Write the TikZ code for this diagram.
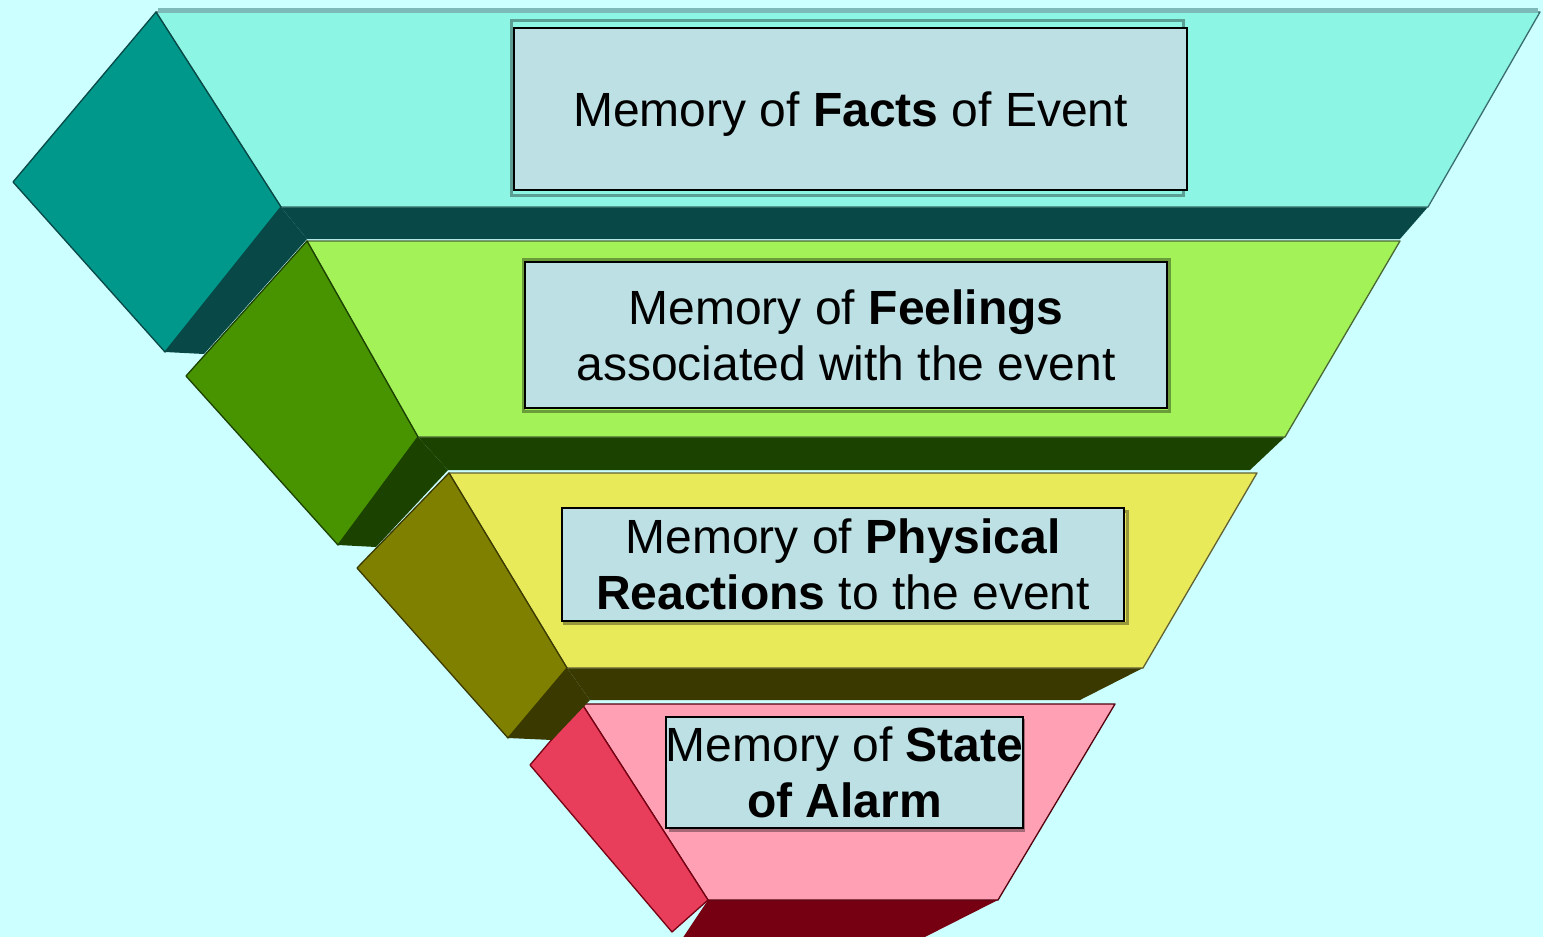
\documentclass[tikz,border=0pt]{standalone}
\usepackage{fontspec}
\setmainfont{Liberation Sans}
\definecolor{bg}{RGB}{204,255,255}
\definecolor{aTop}{RGB}{140,245,228}
\definecolor{aSide}{RGB}{0,152,138}
\definecolor{aDark}{RGB}{8,72,70}
\definecolor{bTop}{RGB}{163,242,88}
\definecolor{bSide}{RGB}{72,148,0}
\definecolor{bDark}{RGB}{28,66,0}
\definecolor{cTop}{RGB}{232,234,90}
\definecolor{cSide}{RGB}{128,128,0}
\definecolor{cDark}{RGB}{58,58,0}
\definecolor{dTop}{RGB}{255,160,180}
\definecolor{dSide}{RGB}{232,62,92}
\definecolor{dDark}{RGB}{118,0,18}
\definecolor{boxfill}{RGB}{188,224,228}
\definecolor{rimline}{RGB}{125,185,185}
\tikzset{
  edgeline/.style={line width=1.3pt, line join=round},
  boxnode/.style={draw=black, line width=1.6pt, fill=boxfill, inner sep=0pt,
    align=center, font=\fontsize{48}{56}\selectfont},
  shadowframe/.style={draw=black, draw opacity=0.35, line width=3pt}
}
\begin{document}
\begin{tikzpicture}[x=1pt,y=-1pt]
\fill[bg] (0,0) rectangle (1543,937);
\useasboundingbox (0,0) rectangle (1543,937);

% ---------- layer 4 (pink) ----------
\fill[dDark] (708,900) -- (998,900) -- (915,942) -- (680,942) -- cycle;
\filldraw[fill=dTop, draw=dDark!70!black, edgeline] (582,704) -- (1115,704) -- (998,900) -- (708,900) -- cycle;
\filldraw[fill=dSide, draw=dDark, edgeline] (582,704) -- (530,765) -- (672,932) -- (708,900) -- cycle;

% ---------- layer 3 (yellow) ----------
\fill[cDark] (567,668) -- (590,700) -- (552,740) -- (508,738) -- cycle;
\fill[cDark] (567,668) -- (1143,668) -- (1080,700) -- (590,700) -- cycle;
\filldraw[fill=cTop, draw=cDark!80, edgeline] (449,473) -- (1257,473) -- (1143,668) -- (567,668) -- cycle;
\filldraw[fill=cSide, draw=cDark, edgeline] (449,473) -- (357,568) -- (508,738) -- (567,668) -- cycle;

% ---------- layer 2 (green) ----------
\fill[bDark] (418,437) -- (448,470) -- (376,547) -- (338,545) -- cycle;
\fill[bDark] (418,437) -- (1285,437) -- (1250,470) -- (448,470) -- cycle;
\filldraw[fill=bTop, draw=bDark!80, edgeline] (307,241) -- (1400,241) -- (1285,437) -- (418,437) -- cycle;
\filldraw[fill=bSide, draw=bDark, edgeline] (307,241) -- (186,376) -- (338,545) -- (418,437) -- cycle;

% ---------- layer 1 (cyan) ----------
\fill[aDark] (281,207) -- (307,239) -- (204,354) -- (165,352) -- cycle;
\fill[aDark] (281,207) -- (1428,207) -- (1400,239) -- (307,239) -- cycle;
\filldraw[fill=aTop, draw=aDark!80, edgeline] (156,12) -- (1540,12) -- (1428,207) -- (281,207) -- cycle;
\filldraw[fill=aSide, draw=aDark, edgeline] (156,12) -- (13,182) -- (165,352) -- (281,207) -- cycle;
\draw[rimline, line width=5pt] (158,10) -- (1538,10);

% ---------- text boxes ----------
\draw[shadowframe] (511,20) rectangle (1183,195);
\node[boxnode, text depth=0pt, minimum width=673pt, minimum height=162pt] (facts) at (850.5,109)
  {Memory of \textbf{Facts} of Event};

\draw[shadowframe] (523,259) rectangle (1169,411);
\node[boxnode, minimum width=642pt, minimum height=146pt] (feelings) at (846,335)
  {Memory of \textbf{Feelings}\\associated with the event};

\draw[shadowframe] (564,511) rectangle (1127,623);
\node[boxnode, minimum width=562pt, minimum height=113pt] (physical) at (843,564.5)
  {Memory of \textbf{Physical}\\\textbf{Reactions} to the event};

\draw[shadowframe] (670,720) rectangle (1023,830);
\node[boxnode, minimum width=353pt, minimum height=111pt] (alarm) at (844.5,772.5)
  {Memory of \textbf{State}\\\textbf{of Alarm}};
\end{tikzpicture}
\end{document}
